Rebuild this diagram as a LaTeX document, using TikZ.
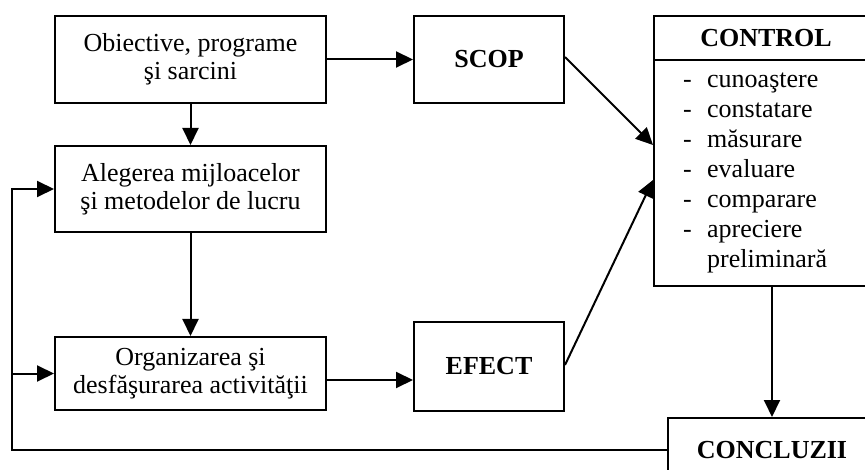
\documentclass[tikz,border=0pt]{standalone}
\usepackage{fontspec}
\setmainfont{Liberation Serif}
\usetikzlibrary{arrows.meta}
\begin{document}
\begin{tikzpicture}[x=1pt,y=-1pt,
  box/.style={draw=black,line width=2pt,inner sep=0pt,align=center,font=\fontsize{26}{28}\selectfont},
  head/.style={box,font=\fontsize{26}{28}\selectfont\bfseries},
  link/.style={draw=black,line width=2pt,-{Triangle[length=17pt,width=16pt]}},
]
\useasboundingbox (0,0) rectangle (865,470);
\clip (0,0) rectangle (865,470);
\node[box,minimum width=271,minimum height=87] (obj) at (190.5,59.5) {Obiective, programe\\şi sarcini};
\node[box,minimum width=271,minimum height=86] (alg) at (190.5,189) {Alegerea mijloacelor\\şi metodelor de lucru};
\node[box,minimum width=271,minimum height=73] (org) at (190.5,373.5) {Organizarea şi\\desfăşurarea activităţii};
\node[head,minimum width=150,minimum height=87] (scop) at (489,59.5) {SCOP};
\node[head,minimum width=150,minimum height=89] (efect) at (489,366.5) {EFECT};
\node[box,minimum width=224,minimum height=270] (control) at (766,151) {};
\node[head,minimum width=224,minimum height=44] (ctrlhead) at (766,38) {CONTROL};
\node[anchor=west,inner sep=0pt,font=\fontsize{26}{30}\selectfont] (ctrllist) at (683,172)
  {\begin{tabular}{@{}p{24pt}@{}l@{}}
   - & cunoaştere\\
   - & constatare\\
   - & măsurare\\
   - & evaluare\\
   - & comparare\\
   - & apreciere\\
     & preliminară
   \end{tabular}};
\node[head,minimum width=208,minimum height=64] (concl) at (772,450) {CONCLUZII};
\coordinate (back) at (12,450);
\draw[link] (obj.east) -- (scop.west);
\draw[link] (obj.south) -- (alg.north);
\draw[link] (alg.south) -- (org.north);
\draw[link] (org.east |- 0,380) -- (efect.west |- 0,380);
\draw[link] (scop.east |- 0,57) -- (control.west |- 0,145);
\draw[link] (efect.east |- 0,365) -- (control.west |- 0,180);
\draw[link] (control.south -| concl.north) -- (concl.north);
\draw[link] (concl.west) -- (back) |- (alg.west);
\draw[link] (back |- org.west) -- (org.west);
\end{tikzpicture}
\end{document}
